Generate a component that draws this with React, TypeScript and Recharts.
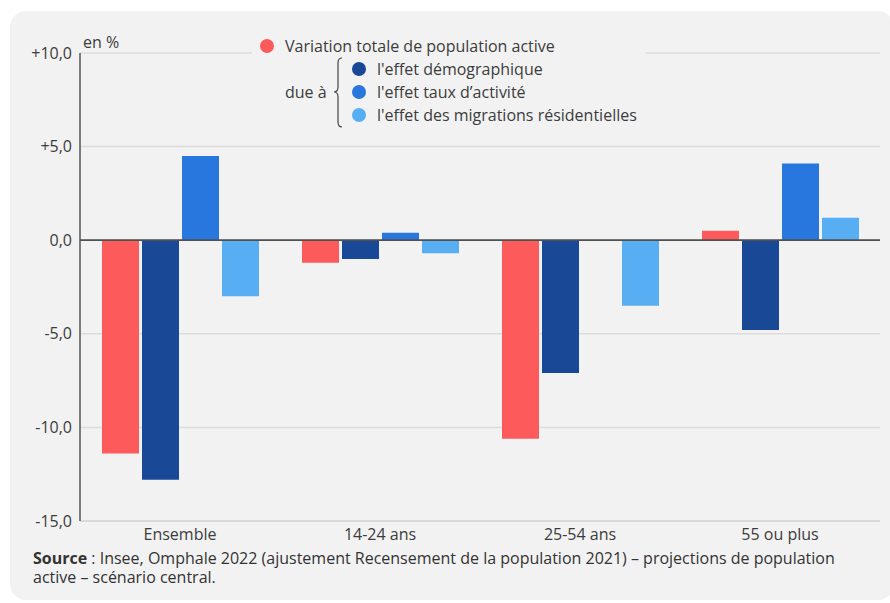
import React from 'react';
import { BarChart, Bar, XAxis, YAxis, CartesianGrid, ReferenceLine, Legend } from 'recharts';

const categories = ['Ensemble', '14-24 ans', '25-54 ans', '55 ou plus'];
const totale = [-11.4, -1.2, -10.6, 0.5];
const demographique = [-12.8, -1.0, -7.1, -4.8];
const tauxActivite = [4.5, 0.4, 0, 4.1];
const migrations = [-3.0, -0.7, -3.5, 1.2];
const yTicks = [-15, -10, -5, 0, 5, 10];

const seriesNames = [
  'Variation totale de population active',
  "l'effet démographique",
  "l'effet taux d’activité",
  "l'effet des migrations résidentielles",
];
const colors = ['#fd5b5b', '#194896', '#2777de', '#57aef2'];

const data = categories.map((c, i) => ({
  cat: c,
  totale: totale[i],
  demo: demographique[i],
  taux: tauxActivite[i],
  migr: migrations[i],
}));

const FONT = '"Open Sans", sans-serif';
const TXT = '#3c3c3c';

const fmt = (v: number) => {
  const s = Math.abs(v).toFixed(1).replace('.', ',');
  if (v > 0) return '+' + s;
  if (v < 0) return '-' + s;
  return s;
};

const LegendBox = () => (
  <svg width={393} height={100} style={{ display: 'block', background: '#f2f2f2' }}>
    <g fontFamily={FONT} fontSize={16} fill={TXT}>
      <circle cx={15} cy={12} r={7} fill={colors[0]} />
      <text x={33} y={12} dominantBaseline="central">{seriesNames[0]}</text>
      <text x={33} y={58} dominantBaseline="central">due à</text>
      <path
        d="M 90 24 Q 86 24 86 29 L 86 53 Q 86 58 82 58 Q 86 58 86 63 L 86 88 Q 86 93 90 93"
        fill="none"
        stroke="#444"
        strokeWidth={1.2}
      />
      {[1, 2, 3].map((k, j) => (
        <g key={k}>
          <circle cx={107} cy={35 + j * 23} r={7} fill={colors[k]} />
          <text x={125} y={35 + j * 23} dominantBaseline="central">{seriesNames[k]}</text>
        </g>
      ))}
    </g>
  </svg>
);

export default function App() {
  return (
    <div style={{ position: 'absolute', left: 0, top: 0, width: 890, height: 603, background: '#fff', overflow: 'hidden', fontFamily: FONT }}>
      <div style={{ position: 'absolute', left: 10, top: 11, width: 884, height: 589, borderRadius: 16, background: '#f2f2f2' }} />
      <div style={{ position: 'absolute', left: 0, top: 0 }}>
        <BarChart
          width={890}
          height={603}
          data={data}
          margin={{ top: 53, right: 10, bottom: 52, left: 0 }}
          barSize={37}
          barGap={3}
        >
          <CartesianGrid vertical={false} stroke="#dcdcdc" strokeWidth={1.5} />
          <XAxis
            dataKey="cat"
            height={30}
            axisLine={{ stroke: '#d0d0d0' }}
            tickLine={false}
            tick={{ fill: TXT, fontSize: 16, fontFamily: FONT }}
          />
          <YAxis
            width={80}
            domain={[-15, 10]}
            ticks={yTicks}
            interval={0}
            tickFormatter={fmt}
            axisLine={{ stroke: '#555', strokeWidth: 1.5 }}
            tickLine={false}
            tick={{ fill: TXT, fontSize: 16, fontFamily: FONT }}
          />
          <Legend
            layout="vertical"
            align="center"
            verticalAlign="middle"
            wrapperStyle={{ left: 252, top: 34, width: 393, height: 100 }}
            content={() => <LegendBox />}
          />
          <Bar dataKey="totale" name={seriesNames[0]} fill={colors[0]} isAnimationActive={false} />
          <Bar dataKey="demo" name={seriesNames[1]} fill={colors[1]} isAnimationActive={false} />
          <Bar dataKey="taux" name={seriesNames[2]} fill={colors[2]} isAnimationActive={false} />
          <Bar dataKey="migr" name={seriesNames[3]} fill={colors[3]} isAnimationActive={false} />
          <ReferenceLine y={0} stroke="#505050" strokeWidth={1.8} />
        </BarChart>
      </div>
      <div style={{ position: 'absolute', left: 83, top: 32, fontSize: 16, color: TXT, lineHeight: '20px' }}>en %</div>
      <div style={{ position: 'absolute', left: 33, top: 549, width: 830, fontSize: 16, color: '#333', lineHeight: '19px' }}>
        <span style={{ fontWeight: 700 }}>Source</span>{'\u00a0: Insee, Omphale 2022 (ajustement Recensement de la population 2021) – projections de population active – scénario central.'}
      </div>
    </div>
  );
}
